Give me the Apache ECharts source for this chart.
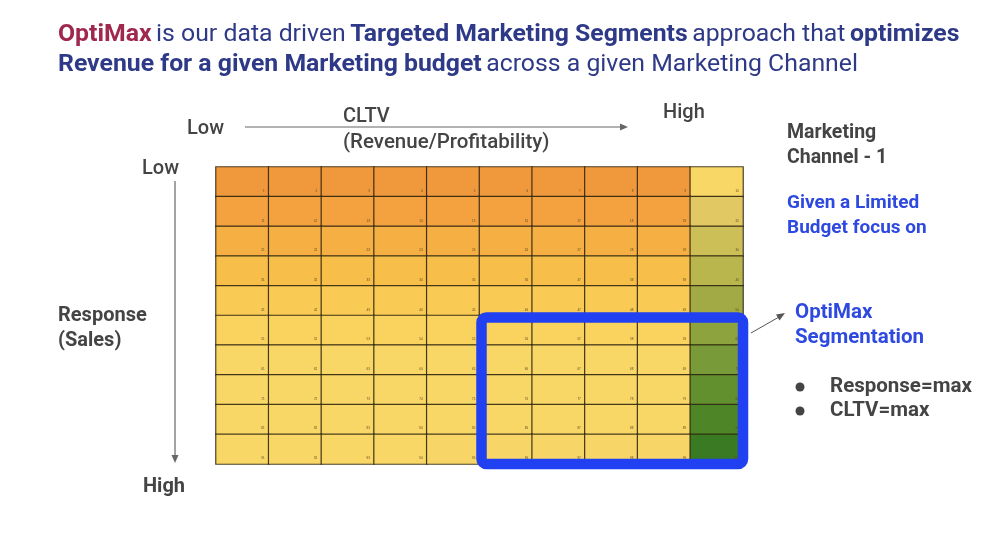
<!DOCTYPE html>
<html>
<head>
<meta charset="utf-8">
<title>OptiMax segmentation</title>
<style type="text/css">
  html, body { margin: 0; padding: 0; background: #fff; }
  #main { width: 1001px; height: 533px; }
</style>
</head>
<body>
<div id="main"></div>
<script src="https://cdn.jsdelivr.net/npm/echarts@6/dist/echarts.min.js"></script>
<script type="text/javascript">
// CLTV buckets (low -> high) and Response buckets (low -> high)
var cltvBuckets = ['C1', 'C2', 'C3', 'C4', 'C5', 'C6', 'C7', 'C8', 'C9', 'C10'];
var responseBuckets = ['R1', 'R2', 'R3', 'R4', 'R5', 'R6', 'R7', 'R8', 'R9', 'R10'];

// colour level of every cell, one row per response bucket
var row1 = [0, 0, 0, 0, 0, 0, 0, 0, 0, 6];
var row2 = [1, 1, 1, 1, 1, 1, 1, 1, 1, 7];
var row3 = [2, 2, 2, 2, 2, 2, 2, 2, 2, 8];
var row4 = [3, 3, 3, 3, 3, 3, 3, 3, 3, 9];
var row5 = [4, 4, 4, 4, 4, 4, 4, 4, 4, 10];
var row6 = [5, 5, 5, 5, 5, 5, 5, 5, 5, 11];
var row7 = [6, 6, 6, 6, 6, 6, 6, 6, 6, 12];
var row8 = [6, 6, 6, 6, 6, 6, 6, 6, 6, 13];
var row9 = [6, 6, 6, 6, 6, 6, 6, 6, 6, 14];
var row10 = [6, 6, 6, 6, 6.1, 6.1, 6.1, 6.1, 6.1, 15];
var levelRows = [row1, row2, row3, row4, row5, row6, row7, row8, row9, row10];

// highlighted OptiMax segment: [first cltv, first response, last cltv, last response]
var optimaxSegment = [5, 5, 9, 9];

var levelColors = ['#F0983C', '#F3A23F', '#F5AF43', '#F7BF49', '#F9CB54', '#FAD35E', '#F9D767',
  '#E2C862', '#CDBF58', '#B9B64E', '#A1AA44', '#8CA33E', '#789A38', '#63902F', '#4E8527', '#3A7A22'];

var heatData = [];
for (var r = 0; r < levelRows.length; r++) {
  for (var c = 0; c < levelRows[r].length; c++) {
    heatData.push([c, r, levelRows[r][c]]);
  }
}

var gray = '#444444';
var blue = '#2E49E0';
var navy = '#2E3A87';
var font = 'Roboto';

// text centred vertically on y
function txt(x, y, s, color, size, weight) {
  return {
    type: 'text', x: x, y: y,
    style: {
      text: s, fill: color, verticalAlign: 'middle',
      font: (weight || 'bold') + ' ' + size + 'px ' + font
    }
  };
}

var chartDom = document.getElementById('main');
var myChart = echarts.init(chartDom);
var option = {
  animation: false,
  backgroundColor: '#fff',
  title: {
    left: 58, top: 20, padding: 0,
    text: '{a|OptiMax} {n|is our data driven} {b|Targeted Marketing Segments} {n|approach that} {b|optimizes}\n' +
      '{b|Revenue for a given Marketing budget} {n|across a given Marketing Channel}',
    textStyle: {
      fontFamily: font,
      rich: {
        a: { color: '#A0284E', fontWeight: 'bold', fontSize: 24.8, lineHeight: 30, fontFamily: font },
        b: { color: navy, fontWeight: 'bold', fontSize: 24.8, lineHeight: 30, fontFamily: font },
        n: { color: navy, fontWeight: 'normal', fontSize: 24.8, lineHeight: 30, fontFamily: font }
      }
    }
  },
  grid: { left: 216, top: 167, width: 527, height: 297 },
  xAxis: { type: 'category', data: cltvBuckets, show: false },
  yAxis: { type: 'category', data: responseBuckets, inverse: true, show: false },
  visualMap: {
    show: false, min: 0, max: levelColors.length - 1, dimension: 2, seriesIndex: 0,
    inRange: { color: levelColors }
  },
  series: [
    {
      type: 'heatmap',
      data: heatData,
      itemStyle: { borderColor: 'rgba(45,35,15,0.85)', borderWidth: 1.2 },
      label: {
        show: true, position: 'insideBottomRight', fontSize: 3, color: '#5a4a20',
        formatter: function (p) { return String(p.value[1] * 10 + p.value[0] + 1); }
      }
    },
    {
      type: 'custom',
      data: [optimaxSegment],
      z: 10,
      renderItem: function (params, api) {
        var p0 = api.coord([api.value(0), api.value(1)]);
        var p1 = api.coord([api.value(2), api.value(3)]);
        var cw = api.size([1, 1]);
        var x0 = p0[0] - cw[0] / 2 + 2, y0 = p0[1] - cw[1] / 2 + 2;
        var x1 = p1[0] + cw[0] / 2, y1 = p1[1] + cw[1] / 2;
        return {
          type: 'rect',
          shape: { x: x0, y: y0, width: x1 - x0, height: y1 - y0, r: 5 },
          style: { fill: null, stroke: '#2140F2', lineWidth: 10.5 }
        };
      }
    }
  ],
  graphic: [
    // CLTV axis
    txt(187, 129, 'Low', gray, 20, '500'),
    txt(343, 117, 'CLTV', gray, 20, '500'),
    txt(343, 143, '(Revenue/Profitability)', gray, 20.5, '500'),
    txt(663, 113, 'High', gray, 20, '500'),
    { type: 'line', shape: { x1: 245, y1: 127, x2: 622, y2: 127 }, style: { stroke: '#666', lineWidth: 1.2 } },
    { type: 'polygon', shape: { points: [[628, 127], [620, 123.5], [620, 130.5]] }, style: { fill: '#666' } },
    // Response axis
    txt(142, 169, 'Low', gray, 20, '500'),
    txt(58, 316, 'Response', gray, 20, 'bold'),
    txt(58, 341, '(Sales)', gray, 20, 'bold'),
    txt(143, 487, 'High', gray, 20, 'bold'),
    { type: 'line', shape: { x1: 175, y1: 181, x2: 175, y2: 457 }, style: { stroke: '#666', lineWidth: 1.2 } },
    { type: 'polygon', shape: { points: [[175, 463], [171.5, 455], [178.5, 455]] }, style: { fill: '#666' } },
    // right panel
    txt(787, 133, 'Marketing', gray, 19.5, 'bold'),
    txt(787, 158, 'Channel - 1', gray, 19.5, 'bold'),
    txt(787, 203, 'Given a Limited', blue, 19, 'bold'),
    txt(787, 228, 'Budget focus on', blue, 19, 'bold'),
    txt(795, 313, 'OptiMax', blue, 20.5, 'bold'),
    txt(795, 338, 'Segmentation', blue, 20.5, 'bold'),
    { type: 'circle', shape: { cx: 800, cy: 387, r: 4.5 }, style: { fill: gray } },
    { type: 'circle', shape: { cx: 800, cy: 411, r: 4.5 }, style: { fill: gray } },
    txt(830, 387, 'Response=max', gray, 20.5, 'bold'),
    txt(830, 411, 'CLTV=max', gray, 20.5, 'bold'),
    { type: 'line', shape: { x1: 751, y1: 333, x2: 779, y2: 317 }, style: { stroke: '#555', lineWidth: 1 } },
    { type: 'polygon', shape: { points: [[785, 313], [776, 314.5], [779.5, 320.5]] }, style: { fill: '#555' } }
  ]
};
option && myChart.setOption(option);
</script>
</body>
</html>
